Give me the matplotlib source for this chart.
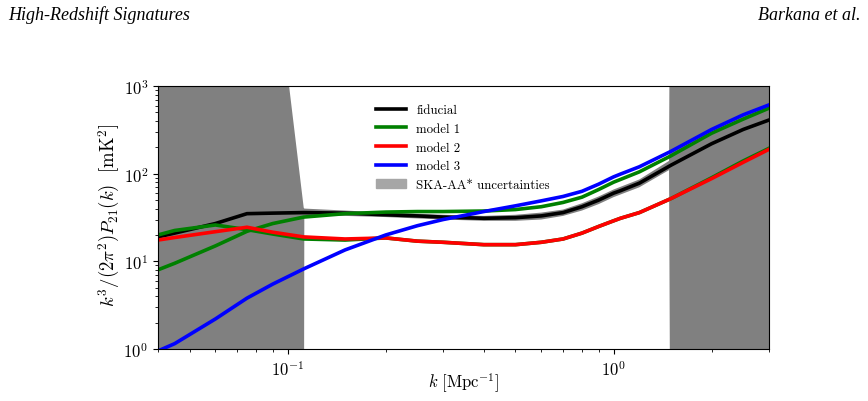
import numpy as np
import matplotlib
matplotlib.use('Agg')
import matplotlib.pyplot as plt
from matplotlib.patches import Patch

plt.rcParams['font.family'] = 'serif'
plt.rcParams['font.serif'] = ['cmr10']
plt.rcParams['mathtext.fontset'] = 'cm'
plt.rcParams['axes.formatter.use_mathtext'] = True

# k-Werte [Mpc^-1]
k = [0.04, 0.045, 0.06, 0.075, 0.09, 0.112, 0.15, 0.2, 0.25, 0.3, 0.4, 0.5,
     0.6, 0.7, 0.8, 0.9, 1.0, 1.05, 1.2, 1.5, 2.0, 2.5, 3.0]

fiducial = [19, 21, 27, 35, 35.5, 36, 35.5, 34, 33, 32, 31, 31.5,
            33, 36, 42, 50, 60, 64, 78, 125, 220, 320, 410]
model1 = [8, 9.5, 15, 22, 27, 32, 35, 36.5, 37, 37, 37.5, 39,
          42, 47, 54, 66, 80, 86, 105, 160, 290, 420, 560]
model1_b = [20, 22.5, 26, 23, 20.5, 18, 17.5, 18.5, 17, 16.5, 15.5, 15.5,
            16.5, 18, 21, 25, 29, 31, 36, 52, 90, 140, 195]
model2 = [17.5, 18.7, 21.8, 24.5, 21.5, 19, 18, 18.5, 17, 16.5, 15.5, 15.5,
          16.5, 18, 21, 25, 29, 31, 36, 52, 88, 135, 190]
model3 = [0.95, 1.15, 2.2, 3.8, 5.5, 8.2, 13.5, 20, 25.5, 30, 37, 43,
          49, 55, 63, 76, 92, 99, 120, 180, 320, 470, 610]

# SKA-AA* Fehlerband (untere/obere Grenze)
band_k = [0.04, 0.075, 0.112, 0.1125, 0.15, 0.2, 0.3, 0.4, 0.5, 0.6, 0.7,
          0.8, 0.9, 1.0, 1.2, 1.48, 1.5, 3.0]
band_lo = [1e-3, 1e-3, 1e-3, 33, 33, 32, 30, 29, 29, 30, 33,
           38, 45, 54, 70, 110, 1e-3, 1e-3]
band_hi = [1e7, 1e7, 41, 40, 38, 36, 34, 33, 34, 36, 39,
           46, 55, 66, 86, 140, 1e7, 1e7]

fig = plt.figure(figsize=(8.68, 4.02), dpi=100)
ax = fig.add_axes([0.182, 0.1294, 0.704, 0.654])

ax.fill_between(band_k, band_lo, band_hi, color='#808080', lw=0)
ax.plot(k, fiducial, color='k', lw=2.6)
ax.plot(k, model1, color='green', lw=2.6)
ax.plot(k, model1_b, color='green', lw=2.6)
ax.plot(k, model2, color='red', lw=2.6)
ax.plot(k, model3, color='blue', lw=2.6)

ax.set_xscale('log')
ax.set_yscale('log')
ax.set_xlim(0.04, 3.0)
ax.set_ylim(1, 1000)
ax.tick_params(labelsize=12)
ax.set_xlabel(r'$k\ [\mathrm{Mpc}^{-1}]$', fontsize=12, labelpad=-5)
ax.set_ylabel(r'$k^3/(2\pi^2)P_{21}(k)\ \ [\mathrm{mK}^2]$', fontsize=13.5,
              labelpad=1, y=0.51)

handles = [plt.Line2D([], [], color='k', lw=2.6),
           plt.Line2D([], [], color='green', lw=2.6),
           plt.Line2D([], [], color='red', lw=2.6),
           plt.Line2D([], [], color='blue', lw=2.6),
           Patch(color='#a6a6a6')]
labels = ['fiducial', 'model 1', 'model 2', 'model 3', 'SKA-AA* uncertainties']
ax.legend(handles, labels, loc='upper left', bbox_to_anchor=(0.338, 0.975),
          frameon=False, fontsize=9.3, handlelength=2.3, labelspacing=0.5)

fig.text(0.009, 0.962, 'High-Redshift Signatures', fontsize=13, style='italic',
         family='Liberation Serif', va='center')
fig.text(0.991, 0.962, 'Barkana et al.', fontsize=13, style='italic',
         family='Liberation Serif', va='center', ha='right')

fig.savefig('out.png', dpi=100)
